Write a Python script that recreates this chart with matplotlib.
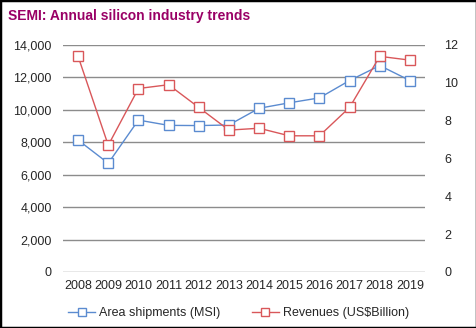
import matplotlib.pyplot as plt
from matplotlib.patches import Rectangle

plt.rcParams['font.family'] = ['Liberation Sans', 'DejaVu Sans']

YEARS = ['2008', '2009', '2010', '2011', '2012', '2013',
         '2014', '2015', '2016', '2017', '2018', '2019']
AREA_MSI = [8137, 6707, 9370, 9043, 9031, 9067,
            10098, 10434, 10738, 11810, 12732, 11810]
REVENUE_B = [11.4, 6.7, 9.7, 9.9, 8.7, 7.5,
             7.6, 7.2, 7.2, 8.7, 11.4, 11.2]
LEFT_TICKS = list(range(0, 14001, 2000))
RIGHT_TICKS = list(range(0, 13, 2))

BLUE = '#5B8BD0'
RED = '#D9575A'
TITLE_COLOR = '#990066'

fig = plt.figure(figsize=(4.77, 3.28), dpi=100)
ax = fig.add_axes([63 / 477, 1 - 272 / 328, 362 / 477, 227 / 328])
ax2 = ax.twinx()

x = list(range(len(YEARS)))

for y in LEFT_TICKS:
    ax.axhline(y, color='#8c8c8c', linewidth=1.0, zorder=0)

l1, = ax.plot(x, AREA_MSI, color=BLUE, linewidth=1.0, marker='s',
              markersize=6.5, markerfacecolor='white', markeredgecolor=BLUE,
              markeredgewidth=1.0, label='Area shipments (MSI)', zorder=3)
l2, = ax2.plot(x, REVENUE_B, color=RED, linewidth=1.0, marker='s',
               markersize=6.5, markerfacecolor='white', markeredgecolor=RED,
               markeredgewidth=1.0, label='Revenues (US$Billion)', zorder=3)

ax.set_xlim(-0.5, len(YEARS) - 0.5)
ax.set_ylim(0, 14000)
ax2.set_ylim(0, 12)
ax.set_xticks(x)
ax.set_xticklabels(YEARS)
ax.set_yticks(LEFT_TICKS)
ax.set_yticklabels([f'{v:,}' for v in LEFT_TICKS])
ax2.set_yticks(RIGHT_TICKS)

for a in (ax, ax2):
    for s in a.spines.values():
        s.set_visible(False)
    a.tick_params(length=0, labelsize=9, colors='#262626')
ax.tick_params(axis='y', pad=8)
ax2.tick_params(axis='y', pad=14)
ax.tick_params(axis='x', pad=6)

fig.legend(handles=[l1, l2], loc='center', bbox_to_anchor=(0.5, 1 - 313 / 328),
           ncol=2, frameon=False, fontsize=9, handlelength=2.2,
           columnspacing=2.5, handletextpad=0.3, labelcolor='#262626',
           markerscale=0.9)

fig.text(8 / 477, 1 - 16 / 328, 'SEMI: Annual silicon industry trends',
         color=TITLE_COLOR, fontsize=10, fontweight='bold', va='center')

fig.patches.append(Rectangle((0, 0), 1, 1, transform=fig.transFigure,
                             fill=False, edgecolor='black', linewidth=2.5))

fig.savefig('out.png', dpi=100)
